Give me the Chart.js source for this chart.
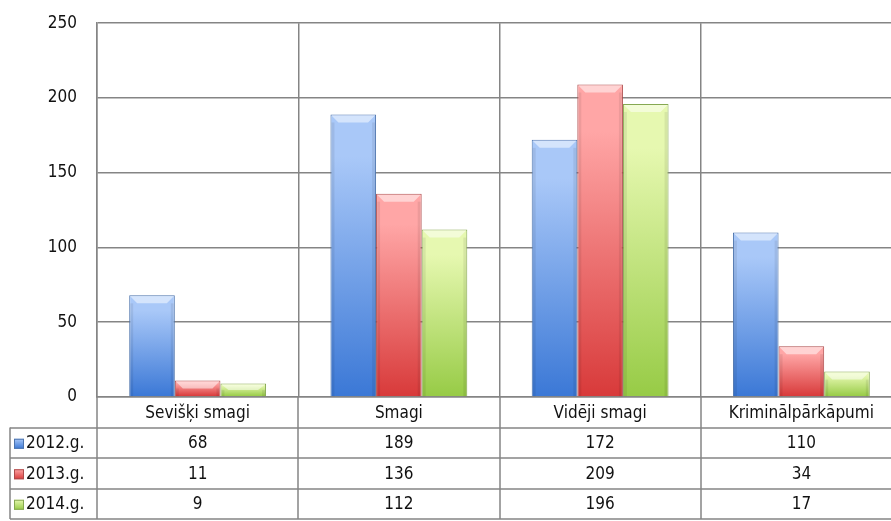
<!DOCTYPE html>
<html>
<head>
<meta charset="utf-8">
<script src="https://cdn.jsdelivr.net/npm/chart.js@4/dist/chart.umd.min.js"></script>
<style>
  html, body { margin: 0; padding: 0; background: #fff; overflow: hidden; }
  #wrap { width: 905px; height: 528px; margin-top: -7px; }
</style>
</head>
<body>
<div id="wrap"><canvas id="chart" width="905" height="528"></canvas></div>
<script>
  // Data
  const categories = ["Sevišķi smagi", "Smagi", "Vidēji smagi", "Kriminālpārkāpumi"];
  const seriesNames = ["2012.g.", "2013.g.", "2014.g."];
  const values2012 = [68, 189, 172, 110];
  const values2013 = [11, 136, 209, 34];
  const values2014 = [9, 112, 196, 17];
  const yTicks = [0, 50, 100, 150, 200, 250];

  const FONT = "'Liberation Sans Narrow', 'DejaVu Sans Condensed', 'Arial Narrow', sans-serif";
  const GRID = "#858585";

  // colours: [top, bottom, border]
  const palette = [
    ["#a9c8f8", "#3b78d6", "#4d74ad"],
    ["#ffa6a6", "#d83a3a", "#ad4b4b"],
    ["#e6f8b0", "#97cb46", "#86a852"]
  ];

  const seriesValues = [values2012, values2013, values2014];

  // gradient fill per bar, plus a bevel on top
  const barStyle = {
    id: "barStyle",
    beforeDatasetsDraw(chart) {
      const ctx = chart.ctx;
      chart.data.datasets.forEach((ds, i) => {
        chart.getDatasetMeta(i).data.forEach(bar => {
          const g = ctx.createLinearGradient(0, bar.y, 0, bar.base);
          g.addColorStop(0, palette[i][0]);
          g.addColorStop(0.15, palette[i][0]);
          g.addColorStop(1, palette[i][1]);
          // options are shared between bars, so give each bar its own copy
          bar.options = Object.assign({}, bar.options, { backgroundColor: g });
        });
      });
    },
    afterDatasetsDraw(chart) {
      const ctx = chart.ctx;
      chart.data.datasets.forEach((ds, i) => {
        chart.getDatasetMeta(i).data.forEach(bar => {
          const l = bar.x - bar.width / 2, r = bar.x + bar.width / 2;
          const h = Math.min(8, (bar.base - bar.y) / 2);
          ctx.save();
          ctx.beginPath();
          ctx.moveTo(l + 1, bar.y + 1);
          ctx.lineTo(r - 1, bar.y + 1);
          ctx.lineTo(r - 8, bar.y + h);
          ctx.lineTo(l + 8, bar.y + h);
          ctx.closePath();
          ctx.fillStyle = "rgba(255,255,255,0.5)";
          ctx.fill();
          // darker side strips
          ctx.fillStyle = "rgba(0,0,0,0.07)";
          ctx.fillRect(l + 1, bar.y + h, 3, bar.base - bar.y - h);
          ctx.fillRect(r - 4, bar.y + h, 3, bar.base - bar.y - h);
          ctx.restore();
        });
      });
    }
  };

  // data table under the plot
  const dataTable = {
    id: "dataTable",
    afterDraw(chart) {
      const ctx = chart.ctx;
      const x = chart.scales.x;
      const area = chart.chartArea;
      const rowH = 30.5;
      const top = area.bottom;
      const labelLeft = 10;
      const colW = (area.right - area.left) / categories.length;
      ctx.save();
      ctx.strokeStyle = GRID;
      ctx.lineWidth = 1.5;

      // horizontal lines
      for (let r = 1; r <= 4; r++) {
        const y = Math.round(top + r * rowH);
        ctx.beginPath();
        ctx.moveTo(labelLeft, y);
        ctx.lineTo(area.right, y);
        ctx.stroke();
      }
      // vertical lines
      const bottom = top + 4 * rowH;
      ctx.beginPath();
      ctx.moveTo(labelLeft, top + rowH);
      ctx.lineTo(labelLeft, bottom);
      for (let c = 0; c <= categories.length; c++) {
        const vx = Math.round(area.left + c * colW);
        ctx.moveTo(vx, top);
        ctx.lineTo(vx, bottom);
      }
      ctx.stroke();

      ctx.fillStyle = "#111";
      ctx.font = "17px " + FONT;
      ctx.textAlign = "center";
      ctx.textBaseline = "middle";
      categories.forEach((cat, c) => {
        const cx = x.getPixelForValue(c);
        ctx.fillText(cat, cx, top + rowH / 2 + 1);
        seriesValues.forEach((vals, s) => {
          ctx.fillText(String(vals[c]), cx, top + rowH * (s + 1.5) + 1);
        });
      });

      // series names with legend keys
      ctx.textAlign = "left";
      ctx.lineWidth = 1;
      seriesNames.forEach((name, s) => {
        const cy = top + rowH * (s + 1.5) + 1;
        const g = ctx.createLinearGradient(0, cy - 5, 0, cy + 5);
        g.addColorStop(0, palette[s][0]);
        g.addColorStop(1, palette[s][1]);
        ctx.fillStyle = g;
        ctx.fillRect(14, cy - 5, 10, 10);
        ctx.strokeStyle = palette[s][2];
        ctx.strokeRect(14.5, cy - 4.5, 9, 9);
        ctx.fillStyle = "#111";
        ctx.fillText(name, 26, cy);
      });
      ctx.restore();
    }
  };

  const datasets = seriesNames.map((name, i) => ({
    label: name,
    data: seriesValues[i],
    backgroundColor: palette[i][1],
    borderColor: palette[i][2],
    borderWidth: 1,
    categoryPercentage: 0.68,
    barPercentage: 1.0
  }));

  new Chart(document.getElementById("chart"), {
    type: "bar",
    data: { labels: categories, datasets: datasets },
    options: {
      responsive: false,
      animation: false,
      layout: { padding: { top: 0, right: 3, bottom: 124, left: 0 } },
      plugins: { legend: { display: false }, tooltip: { enabled: false } },
      scales: {
        x: {
          ticks: { display: false },
          grid: { color: GRID, lineWidth: 1.5, drawTicks: false, offset: true },
          border: { color: GRID, width: 1.5 }
        },
        y: {
          min: 0,
          max: 250,
          afterBuildTicks: scale => { scale.ticks = yTicks.map(v => ({ value: v })); },
          afterFit: scale => { scale.width = 97; },
          ticks: { padding: 20, color: "#111", font: { family: FONT, size: 17 } },
          grid: { color: GRID, lineWidth: 1.5, drawTicks: false },
          border: { color: GRID, width: 1.5 }
        }
      }
    },
    plugins: [barStyle, dataTable]
  });
</script>
</body>
</html>
